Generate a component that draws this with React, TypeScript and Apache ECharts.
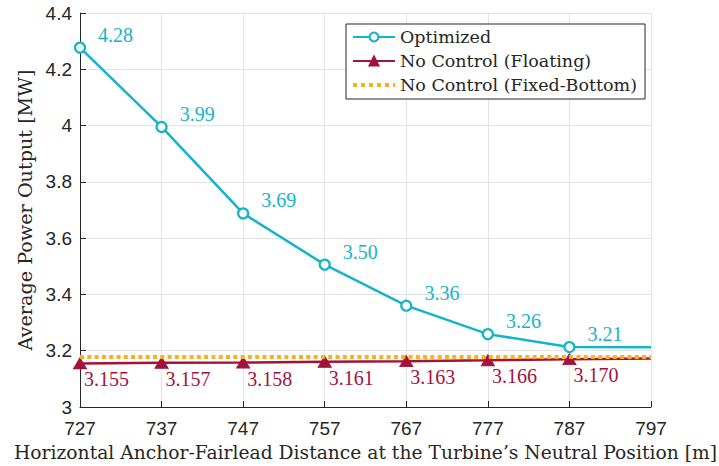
import React, { useEffect, useRef } from "react";
import * as echarts from "echarts";

const categories = ["727", "737", "747", "757", "767", "777", "787", "797"];
const optimized = [4.277, 3.995, 3.688, 3.506, 3.36, 3.259, 3.213, 3.212];
const optimizedLabels = ["4.28", "3.99", "3.69", "3.50", "3.36", "3.26", "3.21", ""];
const floating = [3.155, 3.157, 3.158, 3.161, 3.163, 3.166, 3.17, 3.172];
const floatingLabels = ["3.155", "3.157", "3.158", "3.161", "3.163", "3.166", "3.170", ""];
const fixedBottom = [3.178, 3.178, 3.178, 3.178, 3.178, 3.178, 3.178, 3.178];
const fixedLabelIndex = 2;
const fixedLabel = "3.178";

const CYAN = "#14b4c9";
const CRIMSON = "#a3123f";
const ORANGE = "#fcb01c";
const SERIF = "'Liberation Serif', 'Times New Roman', serif";
const WIDE_SERIF = "'DejaVu Serif', serif";
const SANS = "'Liberation Sans', Arial, sans-serif";

export default function App() {
  const ref = useRef<HTMLDivElement>(null);
  useEffect(() => {
    if (!ref.current) return;
    const chart = echarts.init(ref.current, null, { renderer: "svg" });
    const lastIdx = categories.length - 1;
    chart.setOption({
      animation: false,
      backgroundColor: "#ffffff",
      grid: {
        left: 80,
        right: 68,
        top: 13,
        bottom: 59,
        containLabel: false,
        outerBoundsMode: "none",
      },
      legend: {
        left: 346,
        top: 24,
        orient: "vertical",
        itemWidth: 42,
        itemHeight: 11,
        itemGap: 4,
        padding: [3, 8, 4, 5],
        borderColor: "#262626",
        borderWidth: 1,
        backgroundColor: "#ffffff",
        textStyle: { fontFamily: WIDE_SERIF, fontSize: 17.5, color: "#262626", lineHeight: 20 },
        data: [
          { name: "Optimized" },
          { name: "No Control (Floating)" },
          {
            name: "No Control (Fixed-Bottom)",
            itemStyle: { opacity: 0 },
            lineStyle: { width: 4, type: [4, 4], cap: "butt", color: ORANGE },
          },
        ],
      },
      xAxis: {
        type: "category",
        data: categories,
        boundaryGap: false,
        name: "Horizontal Anchor-Fairlead Distance at the Turbine\u2019s Neutral Position [m]",
        nameLocation: "middle",
        nameGap: 35,
        nameTextStyle: { fontFamily: WIDE_SERIF, fontSize: 18.7, color: "#262626" },
        axisLine: { lineStyle: { color: "#262626", width: 1 } },
        axisTick: { inside: true, length: 6, alignWithLabel: true, lineStyle: { color: "#262626" } },
        axisLabel: { fontFamily: SANS, fontSize: 19, color: "#262626", margin: 12 },
        splitLine: { show: true, lineStyle: { color: "#e3e3e3", width: 1 } },
      },
      yAxis: {
        type: "value",
        min: 3,
        max: 4.4,
        interval: 0.2,
        name: "Average Power Output [MW]",
        nameLocation: "middle",
        nameGap: 42,
        nameTextStyle: { fontFamily: WIDE_SERIF, fontSize: 19.2, color: "#262626" },
        axisLine: { show: true, lineStyle: { color: "#262626", width: 1 } },
        axisTick: { show: true, inside: true, length: 6, lineStyle: { color: "#262626" } },
        axisLabel: { fontFamily: SANS, fontSize: 19, color: "#262626", margin: 8 },
        splitLine: { show: true, lineStyle: { color: "#e3e3e3", width: 1 } },
      },
      series: [
        {
          name: "Optimized",
          type: "line",
          z: 3,
          symbol: "circle",
          symbolSize: 10,
          itemStyle: { color: "#ffffff", borderColor: CYAN, borderWidth: 2.2 },
          lineStyle: { color: CYAN, width: 2.5 },
          data: optimized.map((v, i) =>
            i === lastIdx
              ? { value: v, symbol: "none", label: { show: false } }
              : {
                  value: v,
                  label: {
                    show: true,
                    formatter: optimizedLabels[i],
                    position: "right",
                    distance: 12,
                    offset: [0, -13],
                    fontFamily: SERIF,
                    fontSize: 20,
                    color: CYAN,
                  },
                }
          ),
        },
        {
          name: "No Control (Floating)",
          type: "line",
          z: 2,
          symbol: "triangle",
          symbolSize: [13, 11],
          itemStyle: { color: CRIMSON, borderColor: CRIMSON, borderWidth: 1 },
          lineStyle: { color: CRIMSON, width: 2.5 },
          data: floating.map((v, i) =>
            i === lastIdx
              ? { value: v, symbol: "none", label: { show: false } }
              : {
                  value: v,
                  label: {
                    show: true,
                    formatter: floatingLabels[i],
                    position: "right",
                    distance: -3,
                    offset: [0, 16],
                    fontFamily: SERIF,
                    fontSize: 20,
                    color: CRIMSON,
                  },
                }
          ),
        },
        {
          name: "No Control (Fixed-Bottom)",
          type: "line",
          z: 4,
          symbol: "none",
          itemStyle: { color: ORANGE },
          lineStyle: { color: ORANGE, width: 4, type: [4, 3.3], cap: "butt" },
          data: fixedBottom.map((v, i) =>
            i === fixedLabelIndex
              ? {
                  value: v,
                  label: {
                    show: true,
                    formatter: fixedLabel,
                    position: "right",
                    distance: 0,
                    offset: [0, -18],
                    fontFamily: SERIF,
                    fontSize: 20,
                    color: "#fab22a",
                  },
                }
              : { value: v }
          ),
        },
      ],
    });
    return () => chart.dispose();
  }, []);
  return (
    <div
      ref={ref}
      style={{ position: "absolute", left: 0, top: 0, width: 719, height: 466 }}
    />
  );
}
